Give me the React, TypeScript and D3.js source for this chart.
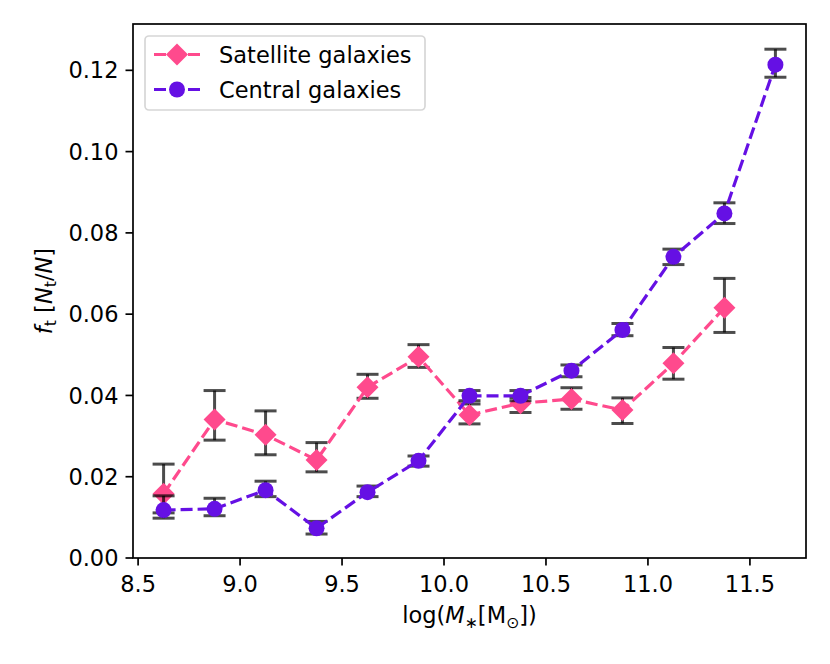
import React from 'react';
import * as d3 from 'd3';

// stellar mass bins (log M*)
const massBins = [8.625, 8.875, 9.125, 9.375, 9.625, 9.875, 10.125, 10.375, 10.625, 10.875, 11.125, 11.375, 11.625];

// satellite galaxies
const satFrac = [0.0158, 0.0341, 0.0303, 0.0241, 0.042, 0.0495, 0.0352, 0.0381, 0.0391, 0.0364, 0.0479, 0.0616];
const satLo = [0.0111, 0.029, 0.0254, 0.0212, 0.0393, 0.0469, 0.033, 0.0358, 0.0366, 0.0331, 0.044, 0.0555];
const satHi = [0.0231, 0.0412, 0.0362, 0.0284, 0.0452, 0.0525, 0.0379, 0.0395, 0.0419, 0.0394, 0.0518, 0.0688];

// central galaxies
const cenFrac = [0.0118, 0.0121, 0.0167, 0.0073, 0.0162, 0.0239, 0.0399, 0.0399, 0.0461, 0.0561, 0.0741, 0.0848, 0.1214];
const cenLo = [0.0098, 0.0104, 0.0151, 0.0059, 0.0151, 0.0226, 0.0387, 0.0387, 0.0446, 0.0547, 0.0722, 0.0823, 0.1183];
const cenHi = [0.0153, 0.0147, 0.0189, 0.009, 0.0177, 0.0251, 0.0412, 0.0412, 0.0475, 0.0577, 0.076, 0.0874, 0.1252];

const xTicks = [8.5, 9.0, 9.5, 10.0, 10.5, 11.0, 11.5];
const yTicks = [0, 0.02, 0.04, 0.06, 0.08, 0.1, 0.12];

const SAT_COLOR = '#ff4a8d';
const CEN_COLOR = '#6510e4';
const ERR_COLOR = 'rgba(0,0,0,0.7)';
const FONT = 'DejaVu Sans';
const FS = 22.5;

const W = 830;
const H = 664;
const left = 133;
const right = 806;
const top = 24;
const bottom = 558;

const App: React.FC = () => {
  const x = d3.scaleLinear().domain([8.475, 11.775]).range([left, right]);
  const y = d3.scaleLinear().domain([0, 0.1314]).range([bottom, top]);

  const line = d3
    .line<[number, number]>()
    .x((d) => x(d[0]))
    .y((d) => y(d[1]));

  const satPts = satFrac.map((v, i) => [massBins[i], v] as [number, number]);
  const cenPts = cenFrac.map((v, i) => [massBins[i], v] as [number, number]);

  const diamond = (cx: number, cy: number, r: number) =>
    `M${cx},${cy - r}L${cx + r},${cy}L${cx},${cy + r}L${cx - r},${cy}Z`;

  const errBars = (lo: number[], hi: number[], key: string) =>
    lo.map((l, i) => {
      const cx = x(massBins[i]);
      const y1 = y(l);
      const y2 = y(hi[i]);
      return (
        <g key={key + i} stroke={ERR_COLOR} strokeWidth={3}>
          <line x1={cx} x2={cx} y1={y1} y2={y2} />
          <line x1={cx - 11} x2={cx + 11} y1={y1} y2={y1} />
          <line x1={cx - 11} x2={cx + 11} y1={y2} y2={y2} />
        </g>
      );
    });

  return (
    <svg
      width={W}
      height={H}
      style={{ position: 'absolute', left: 0, top: 0, background: '#fff' }}
      fontFamily={FONT}
    >
      {/* satellites: bars, then line and markers */}
      {errBars(satLo, satHi, 's')}
      <path d={line(satPts)!} fill="none" stroke={SAT_COLOR} strokeWidth={3.2} strokeDasharray="12,5" />
      {satPts.map((d, i) => (
        <path key={'sd' + i} d={diamond(x(d[0]), y(d[1]), 11)} fill={SAT_COLOR} />
      ))}

      {/* centrals */}
      {errBars(cenLo, cenHi, 'c')}
      <path d={line(cenPts)!} fill="none" stroke={CEN_COLOR} strokeWidth={3.2} strokeDasharray="12,5" />
      {cenPts.map((d, i) => (
        <circle key={'cc' + i} cx={x(d[0])} cy={y(d[1])} r={8} fill={CEN_COLOR} />
      ))}

      {/* frame */}
      <rect x={left} y={top} width={right - left} height={bottom - top} fill="none" stroke="#000" strokeWidth={1.7} />

      {/* x axis */}
      {xTicks.map((t) => (
        <g key={'xt' + t}>
          <line x1={x(t)} x2={x(t)} y1={bottom} y2={bottom + 7.5} stroke="#000" strokeWidth={1.7} />
          <text x={x(t)} y={592} textAnchor="middle" fontSize={FS}>
            {d3.format('.1f')(t)}
          </text>
        </g>
      ))}
      {/* y axis */}
      {yTicks.map((t) => (
        <g key={'yt' + t}>
          <line x1={left - 7.5} x2={left} y1={y(t)} y2={y(t)} stroke="#000" strokeWidth={1.7} />
          <text x={118.5} y={y(t)} dy="0.36em" textAnchor="end" fontSize={FS}>
            {d3.format('.2f')(t)}
          </text>
        </g>
      ))}

      {/* axis labels */}
      <text x={(left + right) / 2} y={623} textAnchor="middle" fontSize={FS}>
        log(<tspan fontStyle="italic">M</tspan>
        <tspan fontSize={FS * 0.7} dy={5}>∗</tspan>
        <tspan dy={-5}>[M</tspan>
        <tspan fontSize={FS * 0.7} dy={5}>⊙</tspan>
        <tspan dy={-5}>])</tspan>
      </text>
      <text transform={`translate(52,${(top + bottom) / 2}) rotate(-90)`} textAnchor="middle" fontSize={FS}>
        <tspan fontStyle="italic">f</tspan>
        <tspan fontSize={FS * 0.7} dy={4}>t</tspan>
        <tspan dy={-4}> [</tspan>
        <tspan fontStyle="italic">N</tspan>
        <tspan fontSize={FS * 0.7} dy={4}>t</tspan>
        <tspan dy={-4}>/</tspan>
        <tspan fontStyle="italic">N</tspan>
        <tspan>]</tspan>
      </text>

      {/* legend */}
      <rect x={145} y={36} width={280} height={74} rx={4} fill="rgba(255,255,255,0.8)" stroke="rgba(204,204,204,0.8)" strokeWidth={1.7} />
      <line x1={154} x2={200} y1={54.5} y2={54.5} stroke={SAT_COLOR} strokeWidth={3.2} strokeDasharray="12,5" />
      <path d={diamond(177, 54.5, 11)} fill={SAT_COLOR} />
      <text x={219} y={62.5} fontSize={FS}>Satellite galaxies</text>
      <line x1={154} x2={200} y1={89.5} y2={89.5} stroke={CEN_COLOR} strokeWidth={3.2} strokeDasharray="12,5" />
      <circle cx={177} cy={89.5} r={8} fill={CEN_COLOR} />
      <text x={219} y={97.5} fontSize={FS}>Central galaxies</text>
    </svg>
  );
};

export default App;
